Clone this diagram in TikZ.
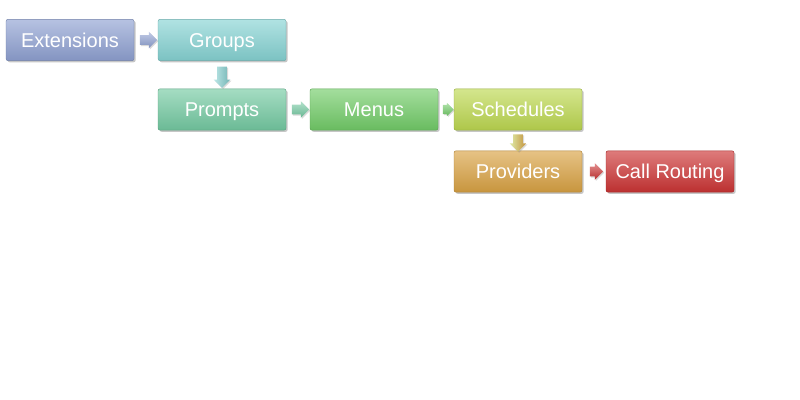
\documentclass[tikz,border=0pt]{standalone}
\usepackage{fontspec}
\setmainfont{Liberation Sans}
\usetikzlibrary{shapes.arrows,shadows,calc}
\definecolor{cExt}{HTML}{8FA1D2}
\definecolor{cGrp}{HTML}{86D3D3}
\definecolor{cPro}{HTML}{74CAA2}
\definecolor{cMen}{HTML}{72CC68}
\definecolor{cSch}{HTML}{BDD850}
\definecolor{cPrv}{HTML}{D9A243}
\definecolor{cCal}{HTML}{CC3434}
\tikzset{
  box/.style={rectangle, rounded corners=1.5pt, minimum width=96pt, minimum height=31pt,
    text=white, font=\fontsize{15pt}{18pt}\selectfont, inner sep=0pt,
    text height=11pt, text depth=0.5pt,
    top color=#1!65!white, bottom color=#1!92!black, draw=#1!80!black, line width=0.3pt,
    drop shadow={opacity=0.45, shadow xshift=1.2pt, shadow yshift=-1.2pt}},
  blk/.style={single arrow, single arrow head extend=2.5pt, minimum height=#1, minimum width=12pt,
    inner xsep=0pt, inner ysep=3.5pt, text height=0pt, text depth=0pt, draw=none,
    drop shadow={opacity=0.3, shadow xshift=0.8pt, shadow yshift=-0.8pt}},
}
\begin{document}
\begin{tikzpicture}[x=0.75pt,y=-0.75pt]
\useasboundingbox (0,0) rectangle (800,400);
\node[box=cExt] (ext) at (70,40) {Extensions};
\node[box=cGrp] (grp) at (222,40) {Groups};
\node[box=cPro] (pro) at (222,109.5) {Prompts};
\node[box=cMen] (men) at (374,109.5) {Menus};
\node[box=cSch] (sch) at (518,109.5) {Schedules};
\node[box=cPrv] (prv) at (518,171.5) {Providers};
\node[box=cCal] (cal) at (670,171.5) {Call Routing};
\node[blk=13pt, top color=cExt!55!white, bottom color=cExt!90!black] (a1) at ($(ext.east)!0.5!(grp.west)$) {};
\node[blk=16pt, rotate=-90, left color=cGrp!55!white, right color=cGrp!85!black] (a2) at ($(grp.south)!0.5!(pro.north)$) {};
\node[blk=13pt, top color=cPro!55!white, bottom color=cPro!90!black] (a3) at ($(pro.east)!0.5!(men.west)$) {};
\node[blk=8pt, minimum width=10pt, inner ysep=3pt, single arrow head extend=1.5pt, top color=cMen!55!white, bottom color=cMen!90!black] (a4) at ($(men.east)!0.5!(sch.west)$) {};
\node[blk=13pt, rotate=-90, left color=cSch!50!white, right color=cPrv!90!black] (a5) at ($(sch.south)!0.5!(prv.north)$) {};
\node[blk=10pt, top color=cCal!55!white, bottom color=cCal!90!black] (a6) at ($(prv.east)!0.5!(cal.west)$) {};
\end{tikzpicture}
\end{document}
